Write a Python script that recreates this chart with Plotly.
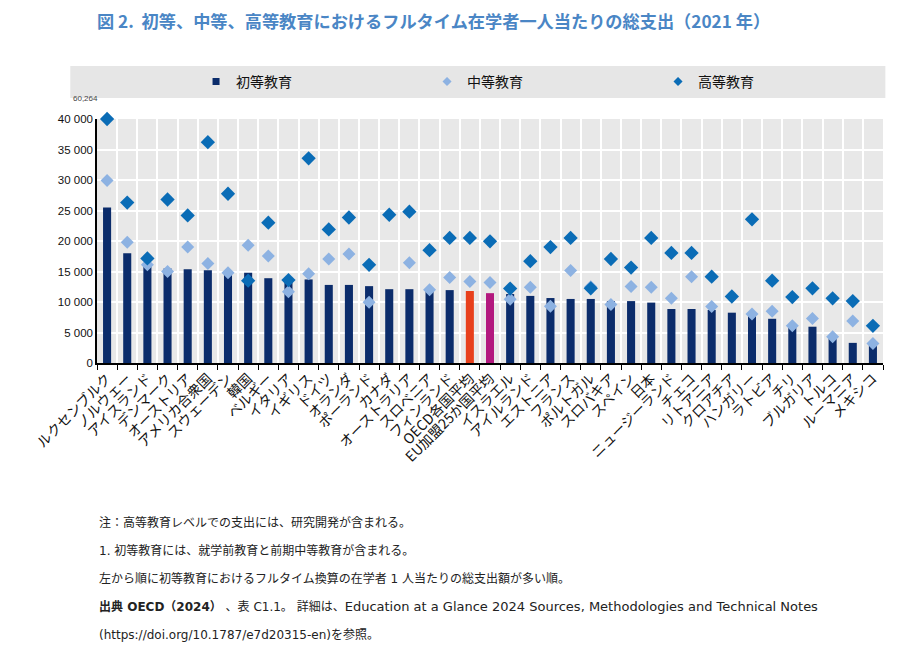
import plotly.graph_objects as go

# 国名（初等教育の支出額が多い順）
countries = [
    "ルクセンブルク", "ノルウェー", "アイスランド", "デンマーク", "オーストリア",
    "アメリカ合衆国", "スウェーデン", "韓国", "ベルギー", "イタリア",
    "イギリス", "ドイツ", "オランダ", "ポーランド", "カナダ",
    "オーストラリア", "スロベニア", "フィンランド", "OECD各国平均", "EU加盟25か国平均",
    "イスラエル", "アイルランド", "エストニア", "フランス", "ポルトガル",
    "スロバキア", "スペイン", "日本", "ニュージーランド", "チェコ",
    "リトアニア", "クロアチア", "ハンガリー", "ラトビア", "チリ",
    "ブルガリア", "トルコ", "ルーマニア", "メキシコ",
]

primary = [
    25500, 18000, 16200, 15500, 15350, 15200, 14800, 14800, 13900, 13700,
    13700, 12800, 12800, 12600, 12100, 12100, 11900, 11950, 11800, 11450,
    11300, 11000, 10650, 10500, 10500, 10150, 10150, 9900, 8850, 8850,
    8700, 8250, 7900, 7250, 5950, 5950, 4300, 3300, 2950,
]

secondary = [
    29900, 19800, 16100, 15000, 19000, 16300, 14800, 19300, 17550, 11700,
    14650, 17050, 17850, 9950, None, 16450, 12000, 14000, 13350, 13200,
    10450, 12400, 9300, 15150, 12500, 9600, 12550, 12400, 10600, 14150,
    9250, None, 8050, 8500, 6100, 7300, 4300, 6900, 3200,
]

tertiary = [
    60264, 26300, 17150, 26800, 24200, 36200, 27750, 13500, 23000, 13600,
    33550, 21900, 23850, 16100, 24300, 24800, 18500, 20500, 20500, 19950,
    12200, 16700, 19000, 20500, 12250, 17050, 15650, 20500, 18050, 18050,
    14150, 10900, 23550, 13500, 10800, 12250, 10600, 10150, 6100,
]

y_max = 40000
tertiary_shown = [min(v, y_max) for v in tertiary]

NAVY = "#0b2c6b"
LIGHT = "#8db2e2"
BLUE = "#0a6cb6"
bar_colors = [NAVY] * len(countries)
bar_colors[countries.index("OECD各国平均")] = "#e8401c"
bar_colors[countries.index("EU加盟25か国平均")] = "#b3197f"

FONT = "Noto Sans CJK JP"

fig = go.Figure()
fig.add_trace(go.Bar(
    x=countries, y=primary, name="初等教育", showlegend=False,
    marker=dict(color=bar_colors, line=dict(width=0)),
))
fig.add_trace(go.Scatter(
    x=countries, y=secondary, name="中等教育", mode="markers", showlegend=False,
    marker=dict(symbol="diamond", size=10, color=LIGHT),
    cliponaxis=False,
))
fig.add_trace(go.Scatter(
    x=countries, y=tertiary_shown, name="高等教育", mode="markers", showlegend=False,
    marker=dict(symbol="diamond", size=11, color=BLUE),
    cliponaxis=False,
))

# 凡例用（小さめの記号）
for name, symbol, color in [("初等教育", "square", NAVY),
                            ("中等教育", "diamond", LIGHT),
                            ("高等教育", "diamond", BLUE)]:
    fig.add_trace(go.Scatter(
        x=[None], y=[None], name=name, mode="markers",
        marker=dict(symbol=symbol, size=7, color=color),
    ))

# 凡例の灰色帯
fig.add_shape(type="rect", xref="paper", yref="paper",
              x0=-0.034, x1=1.003, y0=1.086, y1=1.217,
              fillcolor="#e6e6e6", line=dict(width=0), layer="below")

# 上限を超えた値のラベル
fig.add_annotation(x=countries[0], y=y_max, text=f"{tertiary[0]:,}",
                   showarrow=False, xshift=-22, yshift=21,
                   font=dict(size=8, color="#444", family="Liberation Sans"))

fig.add_annotation(
    xref="paper", yref="paper", x=-0.002, y=1.404, xanchor="left", yanchor="middle",
    text="<b>図 2.  初等、中等、高等教育におけるフルタイム在学者一人当たりの総支出（2021 年）</b>",
    showarrow=False, font=dict(size=17.2, color="#4a86c5", family=FONT),
)

notes = [
    "注：高等教育レベルでの支出には、研究開発が含まれる。",
    "1. 初等教育には、就学前教育と前期中等教育が含まれる。",
    "左から順に初等教育におけるフルタイム換算の在学者 1 人当たりの総支出額が多い順。",
    "<b>出典 OECD（2024）</b>&nbsp;、表 C1.1。&nbsp;詳細は、"
    "<span style='font-size:13px'>Education at a Glance 2024 Sources, Methodologies and Technical Notes</span>",
    "(https://doi.org/10.1787/e7d20315-en)を参照。",
]
for i, line in enumerate(notes):
    fig.add_annotation(
        xref="paper", yref="paper", x=0.0, y=(363 - 522 - 28.3 * i) / 244,
        xanchor="left", yanchor="middle", text=line, showarrow=False,
        font=dict(size=12, color="#222", family="DejaVu Sans, " + FONT),
    )

# ページ本文の余白（8px）を差し引いた余白
fig.update_layout(
    width=911, height=658,
    margin=dict(l=89, r=36, t=111, b=303, autoexpand=False),
    paper_bgcolor="white", plot_bgcolor="#e8e8e8",
    font=dict(family=FONT, color="#111"),
    separators=". ",
    bargap=0.6,
    showlegend=True,
    legend=dict(orientation="h", x=0.126, xanchor="left", y=1.152, yanchor="middle",
                bgcolor="rgba(0,0,0,0)", entrywidth=186, font=dict(size=14),
                traceorder="normal"),
)
fig.update_xaxes(
    type="category", tickson="boundaries", showgrid=True, gridcolor="white", gridwidth=2,
    ticks="outside", ticklen=5, tickcolor="black", tickangle=-45, automargin=False,
    showline=True, linecolor="black", linewidth=1.5,
    tickfont=dict(size=14, color="#111"), range=[-0.5, len(countries) - 0.5],
)
fig.update_yaxes(
    range=[0, y_max], dtick=5000, tickformat=",d", automargin=False,
    showgrid=True, gridcolor="white", gridwidth=2, zeroline=False,
    showline=True, linecolor="black", linewidth=1.5,
    tickfont=dict(size=11.5, color="#111", family="Liberation Sans"),
)

fig.write_html("out.html")
